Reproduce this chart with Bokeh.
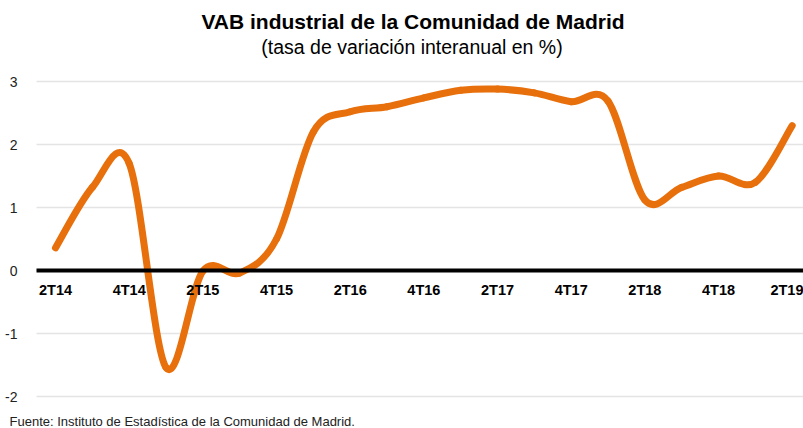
from bokeh.plotting import figure
from bokeh.models import Range1d, FixedTicker, Label, Grid, ColumnDataSource
from bokeh.embed import file_html
from bokeh.resources import INLINE

# ---- data ----
quarters = ["2T14", "3T14", "4T14", "1T15", "2T15", "3T15", "4T15", "1T16", "2T16", "3T16",
            "4T16", "1T17", "2T17", "3T17", "4T17", "1T18", "2T18", "3T18", "4T18", "1T19", "2T19"]
values = [0.36, 1.32, 1.70, -1.54, -0.01, -0.04, 0.50, 2.20, 2.52, 2.60,
          2.74, 2.86, 2.88, 2.82, 2.68, 2.69, 1.12, 1.32, 1.50, 1.40, 2.30]
y_ticks = [-2, -1, 0, 1, 2, 3]
y_tick_labels = ["-2", "-1", "0", "1", "2", "3"]
title_text = "VAB industrial de la Comunidad de Madrid"
subtitle_text = "(tasa de variación interanual en %)"
source_text = "Fuente: Instituto de Estadística de la Comunidad de Madrid."

# ---- layout (picture pixels) ----
W, H = 803, 428
plot_left = 36
x0_px, x1_px = 55.0, 791.7        # first / last quarter
y3_px, ym2_px = 81.0, 396.0       # value 3 / value -2

n = len(quarters)
pxu_x = (x1_px - x0_px) / (n - 1)
pxu_y = (ym2_px - y3_px) / 5.0

def xd(px):
    return (px - x0_px) / pxu_x

def yd(py):
    return 3 - (py - y3_px) / pxu_y

p = figure(width=W, height=H, output_backend="svg", toolbar_location=None,
           x_range=Range1d(xd(0), xd(W)), y_range=Range1d(yd(H), yd(0)),
           min_border_left=0, min_border_right=0, min_border_top=0, min_border_bottom=0)
p.outline_line_color = None
p.background_fill_color = "white"
p.border_fill_color = "white"

# horizontal grid lines starting at the plot's left edge
p.xgrid.grid_line_color = None
grid = p.ygrid[0]
if "cross_bounds" in Grid.properties():
    grid.ticker = FixedTicker(ticks=y_ticks)
    grid.cross_bounds = (xd(plot_left), xd(W))
    grid.grid_line_color = "#e4e4e4"
    grid.grid_line_width = 1.6
else:
    grid.grid_line_color = None
    p.segment(x0=[xd(plot_left)] * len(y_ticks), y0=y_ticks,
              x1=[xd(W)] * len(y_ticks), y1=y_ticks,
              line_color="#e4e4e4", line_width=1.6)

# y axis (labels only)
p.yaxis.fixed_location = xd(plot_left)
p.yaxis.ticker = FixedTicker(ticks=y_ticks)
p.yaxis.major_label_overrides = dict(zip(y_ticks, y_tick_labels))
p.yaxis.axis_line_color = None
p.yaxis.major_tick_line_color = None
p.yaxis.minor_tick_line_color = None
p.yaxis.major_label_standoff = 13
p.yaxis.major_label_text_font = "Liberation Sans"
p.yaxis.major_label_text_font_size = "14px"
p.yaxis.major_label_text_color = "#222222"

# x axis at zero
xt = list(range(0, n, 2))
p.xaxis.fixed_location = 0
p.xaxis.bounds = (xd(plot_left), xd(W))
p.xaxis.ticker = FixedTicker(ticks=xt)
p.xaxis.major_label_overrides = {i: quarters[i] for i in xt}
p.xaxis.axis_line_color = "black"
p.xaxis.axis_line_width = 4
p.xaxis.major_tick_line_color = None
p.xaxis.minor_tick_line_color = None
p.xaxis.major_label_standoff = 5
p.xaxis.major_label_text_font = "Liberation Sans"
p.xaxis.major_label_text_font_style = "bold"
p.xaxis.major_label_text_font_size = "14.5px"
p.xaxis.major_label_text_color = "black"

# smooth line: Catmull-Rom segments as cubic Beziers
xs = list(range(n))
ext = [values[0]] + values + [values[-1]]
xe = [xs[0]] + xs + [xs[-1]]
seg = dict(x0=[], y0=[], x1=[], y1=[], cx0=[], cy0=[], cx1=[], cy1=[])
for i in range(n - 1):
    pm, p0, p1, p2 = ext[i], ext[i + 1], ext[i + 2], ext[i + 3]
    xm, xa, xb, xc = xe[i], xe[i + 1], xe[i + 2], xe[i + 3]
    seg["x0"].append(xa); seg["y0"].append(p0)
    seg["x1"].append(xb); seg["y1"].append(p1)
    seg["cx0"].append(xa + (xb - xm) / 6.0); seg["cy0"].append(p0 + (p1 - pm) / 6.0)
    seg["cx1"].append(xb - (xc - xa) / 6.0); seg["cy1"].append(p1 - (p2 - p0) / 6.0)
src = ColumnDataSource(seg)
p.bezier(x0="x0", y0="y0", x1="x1", y1="y1", cx0="cx0", cy0="cy0", cx1="cx1", cy1="cy1",
         source=src, line_color="#E8700C", line_width=7, line_cap="round")

# texts
p.add_layout(Label(x=xd(412.5), y=yd(20.5), text=title_text, text_align="center",
                   text_baseline="middle", text_font="Liberation Sans",
                   text_font_style="bold", text_font_size="21px", text_color="black"))
p.add_layout(Label(x=xd(411.5), y=yd(46), text=subtitle_text, text_align="center",
                   text_baseline="middle", text_font="Liberation Sans",
                   text_font_size="19.5px", text_color="black"))
p.add_layout(Label(x=xd(9), y=yd(421), text=source_text, text_align="left",
                   text_baseline="middle", text_font="Liberation Sans",
                   text_font_size="13px", text_color="#222222"))

open("out.html", "w").write(file_html(p, INLINE))
